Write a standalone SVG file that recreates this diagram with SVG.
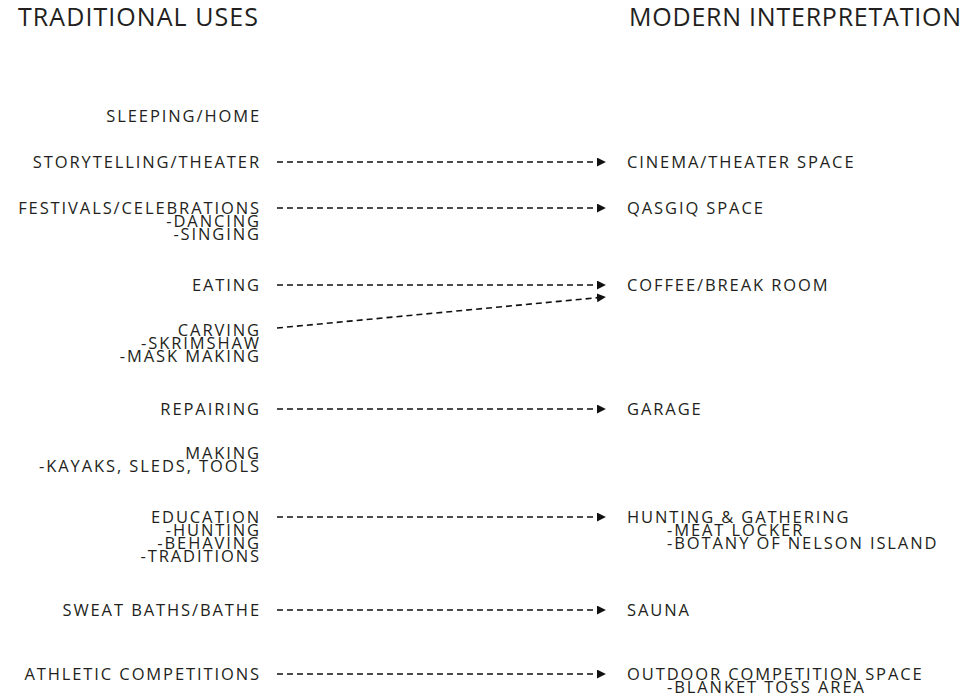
<svg xmlns="http://www.w3.org/2000/svg" width="973" height="700" viewBox="0 0 973 700">
<defs>
<style>
text{font-family:"Open Sans","Noto Sans",sans-serif;fill:#231f20;font-size:16.5px;letter-spacing:1.9px}
.h{font-size:25px;letter-spacing:0}
.l{text-anchor:end}
.c line{stroke:#111;stroke-width:1.6;stroke-dasharray:6 4;fill:none}
</style>
<marker id="ah" viewBox="0 0 10 10" refX="9" refY="5" markerWidth="9" markerHeight="9" markerUnits="userSpaceOnUse" orient="auto">
<path d="M0,0 L10,5 L0,10 Z" fill="#111"/>
</marker>
</defs>
<rect width="973" height="700" fill="#fff"/>
<g id="headings">
<text class="h" x="18" y="26" textLength="240" lengthAdjust="spacing">TRADITIONAL USES</text>
<text class="h" x="629" y="26" textLength="332" lengthAdjust="spacing">MODERN INTERPRETATION</text>
</g>
<g id="sleeping"><text class="l" x="261" y="122">SLEEPING/HOME</text></g>
<g id="storytelling"><text class="l" x="261" y="168">STORYTELLING/THEATER</text></g>
<g id="festivals"><text class="l" x="261" y="214">FESTIVALS/CELEBRATIONS</text><text class="l" x="261" y="227">-DANCING</text><text class="l" x="261" y="240">-SINGING</text></g>
<g id="eating"><text class="l" x="261" y="291">EATING</text></g>
<g id="carving"><text class="l" x="261" y="336">CARVING</text><text class="l" x="261" y="349">-SKRIMSHAW</text><text class="l" x="261" y="362">-MASK MAKING</text></g>
<g id="repairing"><text class="l" x="261" y="415">REPAIRING</text></g>
<g id="making"><text class="l" x="261" y="459">MAKING</text><text class="l" x="261" y="472">-KAYAKS, SLEDS, TOOLS</text></g>
<g id="education"><text class="l" x="261" y="523">EDUCATION</text><text class="l" x="261" y="536">-HUNTING</text><text class="l" x="261" y="549">-BEHAVING</text><text class="l" x="261" y="562">-TRADITIONS</text></g>
<g id="sweat"><text class="l" x="261" y="616">SWEAT BATHS/BATHE</text></g>
<g id="athletic"><text class="l" x="261" y="680">ATHLETIC COMPETITIONS</text></g>
<g id="cinema"><text x="627" y="168">CINEMA/THEATER SPACE</text></g>
<g id="qasgiq"><text x="627" y="214">QASGIQ SPACE</text></g>
<g id="coffee"><text x="627" y="291">COFFEE/BREAK ROOM</text></g>
<g id="garage"><text x="627" y="415">GARAGE</text></g>
<g id="hunting"><text x="627" y="523">HUNTING &amp; GATHERING</text><text x="667" y="536">-MEAT LOCKER</text><text x="667" y="549">-BOTANY OF NELSON ISLAND</text></g>
<g id="sauna"><text x="627" y="616">SAUNA</text></g>
<g id="outdoor"><text x="627" y="680">OUTDOOR COMPETITION SPACE</text><text x="667" y="693">-BLANKET TOSS AREA</text></g>
<g id="connectors" class="c">
<line x1="277" y1="162" x2="605" y2="162" marker-end="url(#ah)"/>
<line x1="277" y1="208" x2="605" y2="208" marker-end="url(#ah)"/>
<line x1="277" y1="285" x2="605" y2="285" marker-end="url(#ah)"/>
<line x1="277" y1="328" x2="605" y2="297" marker-end="url(#ah)"/>
<line x1="277" y1="409" x2="605" y2="409" marker-end="url(#ah)"/>
<line x1="277" y1="517" x2="605" y2="517" marker-end="url(#ah)"/>
<line x1="277" y1="610" x2="605" y2="610" marker-end="url(#ah)"/>
<line x1="277" y1="674" x2="605" y2="674" marker-end="url(#ah)"/>
</g>
</svg>
